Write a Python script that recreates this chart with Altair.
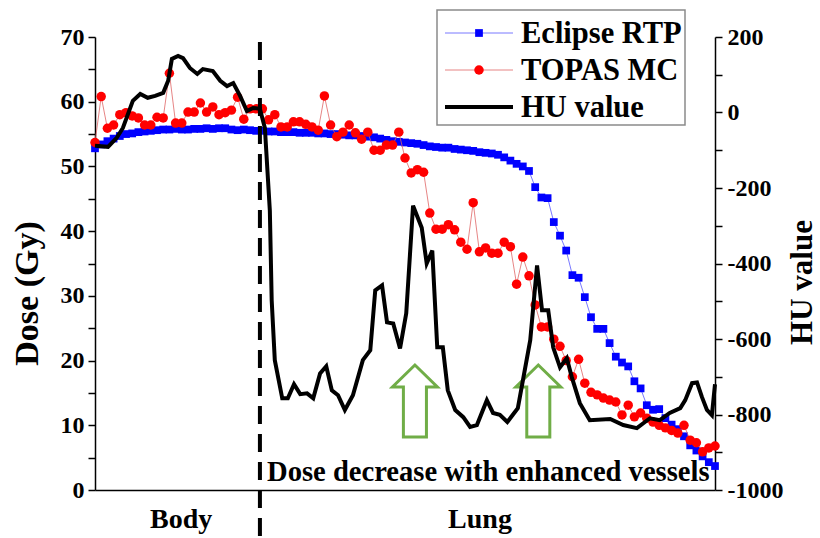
import altair as alt
import pandas as pd

# ---------------- data ----------------
# distance along the profile, arbitrary units 0-100
eclipse_x = list(range(101))
eclipse_dose = [52.8, 53.4, 53.9, 54.3, 54.7, 55.0, 55.1, 55.3, 55.4, 55.5,
                55.6, 55.7, 55.7, 55.8, 55.7, 55.7, 55.8, 55.8, 55.9, 55.8,
                55.9, 55.9, 55.7, 55.6, 55.7, 55.6, 55.5, 55.5, 55.4, 55.4,
                55.3, 55.3, 55.3, 55.2, 55.2, 55.2, 55.1, 55.1, 55.0, 55.0,
                54.9, 54.8, 54.8, 54.7, 54.6, 54.5, 54.3, 54.1, 53.9, 53.8,
                53.7, 53.6, 53.5, 53.3, 53.1, 53.0, 52.9, 52.9, 52.7, 52.6,
                52.5, 52.4, 52.2, 52.1, 52.0, 51.8, 51.4, 50.9, 50.4, 50.0,
                49.3, 46.8, 45.2, 45.1, 41.4, 39.3, 37.0, 33.2, 32.8, 29.8,
                26.7, 24.9, 24.9, 22.7, 20.6, 19.7, 19.1, 16.8, 15.7, 13.1,
                12.4, 12.5, 11.1, 10.1, 9.4, 8.3, 6.9, 6.1, 5.2, 4.3,
                3.7]

topas_x = list(range(101))
topas_dose = [53.7, 60.8, 55.9, 56.4, 58.0, 58.3, 57.8, 57.5, 56.4, 56.4,
              57.6, 57.5, 64.4, 56.7, 56.7, 58.4, 58.4, 59.8, 58.4, 59.2,
              58.0, 58.3, 58.7, 60.7, 57.3, 58.9, 58.9, 58.9, 57.2, 58.0,
              56.1, 56.1, 56.9, 56.9, 56.5, 56.1, 55.6, 60.9, 56.4, 54.6,
              55.3, 56.4, 55.2, 54.2, 55.3, 52.5, 52.5, 53.3, 53.3, 55.3,
              51.3, 49.0, 49.5, 49.1, 42.8, 40.3, 40.3, 41.0, 40.2, 38.3,
              37.2, 44.4, 36.8, 37.4, 36.6, 36.6, 38.3, 37.6, 31.8, 36.0,
              33.1, 28.6, 25.2, 25.2, 23.3, 22.2, 20.0, 17.5, 20.2, 16.5,
              15.1, 14.7, 14.2, 13.9, 13.6, 11.6, 13.1, 11.3, 11.9, 11.1,
              10.5, 10.0, 9.6, 9.2, 8.8, 10.0, 7.7, 7.3, 5.9, 6.5,
              6.8]

hu_x = [0.0, 2.1, 3.5, 4.5, 6.1, 7.3, 8.5, 9.7, 11.0, 11.8,
        12.4, 13.4, 14.2, 15.3, 16.5, 17.4, 19.0, 20.2, 21.3, 22.3,
        23.4, 24.5, 25.5, 26.6, 27.4, 28.2, 28.5, 29.0, 30.2, 31.1,
        32.1, 33.1, 34.2, 35.2, 36.3, 37.3, 38.2, 39.2, 40.3, 41.6,
        43.2, 44.4, 45.2, 46.3, 47.1, 48.1, 49.2, 50.2, 51.3, 52.7,
        53.5, 54.4, 55.2, 56.1, 56.9, 58.1, 59.4, 60.5, 61.6, 63.2,
        64.2, 65.3, 66.5, 68.2, 70.2, 71.3, 72.1, 73.1, 73.9, 75.0,
        76.1, 76.9, 78.2, 79.8, 83.1, 85.2, 87.4, 89.5, 91.1, 92.7,
        94.4, 95.2, 96.3, 97.1, 97.9, 98.7, 99.5, 100.0]
hu_value = [-88, -91, -67, -41, 31, 49, 39, 44, 52, 84,
            142, 150, 144, 118, 102, 115, 110, 84, 70, 78,
            44, 4, 12, 10, -41, -260, -498, -656, -757, -757,
            -720, -746, -744, -757, -691, -672, -736, -749, -788, -749,
            -656, -630, -471, -458, -556, -559, -625, -532, -247, -305,
            -400, -366, -622, -622, -736, -788, -807, -833, -828, -762,
            -796, -801, -820, -783, -603, -405, -524, -524, -622, -675,
            -651, -701, -770, -815, -812, -828, -836, -810, -815, -796,
            -783, -762, -717, -715, -754, -788, -802, -720]

boundary_x = [26.6]
region_labels = ["Body", "Lung"]
region_x = [13.9, 62.1]
arrow_x = [51.6, 71.5]
arrow_dose = [13.75, 13.75]
note_text = "Dose decrease with enhanced vessels"
legend_labels = ["Eclipse RTP", "TOPAS MC", "HU value"]
dose_ticks = list(range(0, 71, 5))
hu_ticks = list(range(-1000, 201, 100))

# ---------------- styling ----------------
FONT = "Liberation Serif"
BLUE = "#0000ff"
RED = "#ff0000"
GREEN = "#70ad47"
W, H = 620, 453

eclipse_df = pd.DataFrame({"x": eclipse_x, "dose": eclipse_dose})
topas_df = pd.DataFrame({"x": topas_x, "dose": topas_dose})
hu_df = pd.DataFrame({"x": hu_x, "hu": hu_value})
boundary_df = pd.DataFrame({"x": boundary_x})
region_df = pd.DataFrame({"x": region_x, "label": region_labels})
arrow_df = pd.DataFrame({"x": arrow_x, "dose": arrow_dose})
one = pd.DataFrame({"a": [0]})

x_axis = alt.Axis(title=None, labels=False, ticks=False, grid=False,
                  domainColor="black", domainWidth=1.5)
x_scale = alt.Scale(domain=[0, 100], nice=False, zero=False)


def X():
    return alt.X("x:Q", scale=x_scale, axis=x_axis)


dose_axis = alt.Axis(
    orient="left", values=dose_ticks, grid=False,
    labelExpr="datum.value % 10 === 0 ? '' + datum.value : ''",
    labelOverlap=False, labelFont=FONT, labelFontSize=24, labelFontWeight="bold",
    labelColor="black", labelPadding=4,
    tickSize=7, tickWidth=1.5, tickColor="black",
    domainColor="black", domainWidth=1.5,
    title="Dose (Gy)", titleFont=FONT, titleFontSize=34, titleFontWeight="bold",
    titleColor="black", titleAngle=270, titleX=-58, titleY=256,
    titleAlign="center", titleBaseline="alphabetic")
dose_scale = alt.Scale(domain=[0, 70], nice=False, zero=False)

hu_axis = alt.Axis(
    orient="right", values=hu_ticks, grid=False,
    labelExpr="datum.value % 200 === 0 ? '' + datum.value : ''",
    labelOverlap=False, labelFont=FONT, labelFontSize=24, labelFontWeight="bold",
    labelColor="black", labelPadding=5,
    tickSize=7, tickWidth=1.5, tickColor="black",
    domainColor="black", domainWidth=1.5,
    title="HU value", titleFont=FONT, titleFontSize=31, titleFontWeight="bold",
    titleColor="black", titleAngle=270, titleX=96, titleY=245,
    titleAlign="center", titleBaseline="alphabetic")
hu_scale = alt.Scale(domain=[-1000, 200], nice=False, zero=False)

Yd = alt.Y("dose:Q", scale=dose_scale, axis=dose_axis)

eclipse_line = alt.Chart(eclipse_df).mark_line(color="#5555ff", strokeWidth=0.8).encode(x=X(), y=Yd)
eclipse_pts = alt.Chart(eclipse_df).mark_square(color=BLUE, size=60, opacity=1).encode(x=X(), y=Yd)
topas_line = alt.Chart(topas_df).mark_line(color="#e06666", strokeWidth=0.8).encode(x=X(), y=Yd)
topas_pts = alt.Chart(topas_df).mark_circle(color=RED, size=90, opacity=1).encode(x=X(), y=Yd)

arrow_path = ("M0,-1 L0.625,-0.39 L0.32,-0.39 L0.32,1 L-0.32,1 "
              "L-0.32,-0.39 L-0.625,-0.39 Z")
arrows = alt.Chart(arrow_df).mark_point(
    shape=arrow_path, size=5184, filled=False, stroke=GREEN, strokeWidth=3,
    opacity=1).encode(x=X(), y=Yd)

dose_layer = alt.layer(eclipse_line, eclipse_pts, topas_line, topas_pts, arrows)

hu_line = alt.Chart(hu_df).mark_line(color="black", strokeWidth=4).encode(
    x=X(), y=alt.Y("hu:Q", scale=hu_scale, axis=hu_axis))

boundary = alt.Chart(boundary_df).mark_rule(
    color="black", strokeWidth=4, strokeDash=[18, 10]).encode(
    x=X(), y=alt.value(5), y2=alt.value(501))

regions = alt.Chart(region_df).mark_text(
    font=FONT, fontSize=28, fontWeight="bold", color="black",
    align="center", baseline="alphabetic").encode(
    x=X(), y=alt.value(491), text="label:N")

note = alt.Chart(one).mark_text(
    text=note_text, font=FONT, fontSize=28.6, fontWeight="bold", color="black",
    align="left", baseline="alphabetic").encode(
    x=alt.value(172), y=alt.value(444))

# ---------------- legend ----------------
LX0, LX1, LMK, LTX = 350, 418, 384, 426
LY0, LSTEP = -4, 37
legend_layers = [
    alt.Chart(one).mark_rect(fill="white", stroke="#8a8a8a", strokeWidth=1.5).encode(
        x=alt.value(342), x2=alt.value(590), y=alt.value(-27), y2=alt.value(88))
]
leg_styles = [
    dict(line_color="#5555ff", line_w=0.8, marker="square", mcolor=BLUE, msize=60),
    dict(line_color="#e06666", line_w=0.8, marker="circle", mcolor=RED, msize=90),
    dict(line_color="black", line_w=4, marker=None, mcolor=None, msize=None),
]
for i, (lab, st) in enumerate(zip(legend_labels, leg_styles)):
    yy = LY0 + i * LSTEP
    legend_layers.append(
        alt.Chart(one).mark_rule(color=st["line_color"], strokeWidth=st["line_w"]).encode(
            x=alt.value(LX0), x2=alt.value(LX1), y=alt.value(yy)))
    if st["marker"] == "square":
        legend_layers.append(alt.Chart(one).mark_square(
            color=st["mcolor"], size=st["msize"], opacity=1).encode(
            x=alt.value(LMK), y=alt.value(yy)))
    elif st["marker"] == "circle":
        legend_layers.append(alt.Chart(one).mark_circle(
            color=st["mcolor"], size=st["msize"], opacity=1).encode(
            x=alt.value(LMK), y=alt.value(yy)))
    legend_layers.append(alt.Chart(one).mark_text(
        text=lab, font=FONT, fontSize=30.5, fontWeight="bold", color="black",
        align="left", baseline="middle").encode(
        x=alt.value(LTX), y=alt.value(yy + 1)))

main = alt.layer(dose_layer, hu_line).resolve_scale(y="independent")

chart = alt.layer(main, boundary, regions, note, *legend_layers).properties(
    width=W, height=H,
    padding={"left": 95, "top": 37, "right": 105, "bottom": 48},
    autosize=alt.AutoSizeParams(type="none"),
    background="white",
).configure_view(strokeWidth=0)

chart.save("out.html", embed_options={"renderer": "svg", "actions": False})
